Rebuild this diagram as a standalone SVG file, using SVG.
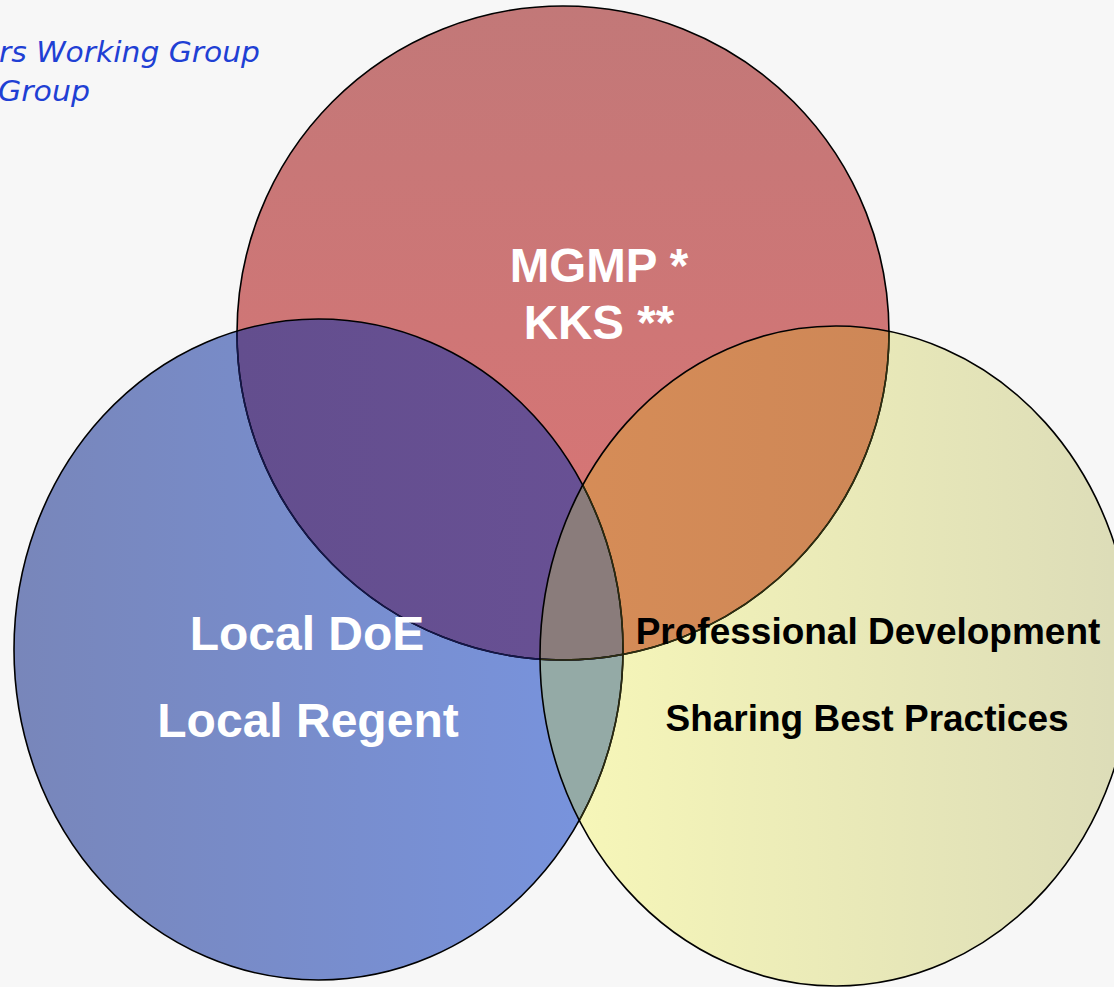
<svg xmlns="http://www.w3.org/2000/svg" width="1114" height="987" viewBox="0 0 1114 987">
  <style>
    .lbl-w { font-family: "Liberation Sans", Arial, sans-serif; font-weight: bold; fill: #ffffff; text-anchor: middle; }
    .lbl-b { font-family: "Liberation Sans", Arial, sans-serif; font-weight: bold; fill: #000000; text-anchor: middle; }
    .hdr { font-family: "DejaVu Sans", "Lato", sans-serif; font-style: italic; fill: #1f40d4; font-size: 29px; }
    .edge { fill: none; stroke-width: 1.6; }
  </style>
  <defs>
    <linearGradient id="gRed" x1="0" y1="0" x2="0" y2="1">
      <stop offset="0" stop-color="#c27878"/>
      <stop offset="1" stop-color="#dc7474"/>
    </linearGradient>
    <linearGradient id="gBlue" x1="0" y1="0" x2="1" y2="0">
      <stop offset="0" stop-color="#7886ba"/>
      <stop offset="1" stop-color="#7894df"/>
    </linearGradient>
    <linearGradient id="gYel" x1="0" y1="0" x2="1" y2="0">
      <stop offset="0" stop-color="#f8f8b8"/>
      <stop offset="1" stop-color="#dcdcb8"/>
    </linearGradient>
    <linearGradient id="gPur" x1="0" y1="0" x2="1" y2="0">
      <stop offset="0" stop-color="#634e8e"/>
      <stop offset="1" stop-color="#6c5299"/>
    </linearGradient>
    <linearGradient id="gOra" x1="0" y1="0" x2="1" y2="0">
      <stop offset="0" stop-color="#de9257"/>
      <stop offset="1" stop-color="#ce8757"/>
    </linearGradient>
    <clipPath id="cBlue"><ellipse cx="318.5" cy="649.5" rx="304.5" ry="330.5"/></clipPath>
    <clipPath id="cYel"><ellipse cx="836" cy="656" rx="296" ry="330"/></clipPath>
  </defs>

  <rect x="0" y="0" width="1114" height="987" fill="#f7f7f7"/>

  <g id="header">
    <text class="hdr" x="-1" y="62" textLength="261" lengthAdjust="spacingAndGlyphs">rs Working Group</text>
    <text class="hdr" x="-2" y="101" textLength="92" lengthAdjust="spacingAndGlyphs">Group</text>
  </g>

  <g id="fills">
    <ellipse cx="563" cy="333" rx="326" ry="327" fill="url(#gRed)"/>
    <ellipse cx="318.5" cy="649.5" rx="304.5" ry="330.5" fill="url(#gBlue)"/>
    <ellipse cx="836" cy="656" rx="296" ry="330" fill="url(#gYel)"/>
  </g>

  <g id="overlaps">
    <ellipse cx="563" cy="333" rx="326" ry="327" fill="url(#gPur)" clip-path="url(#cBlue)"/>
    <ellipse cx="563" cy="333" rx="326" ry="327" fill="url(#gOra)" clip-path="url(#cYel)"/>
    <ellipse cx="318.5" cy="649.5" rx="304.5" ry="330.5" fill="#94aaa6" clip-path="url(#cYel)"/>
    <g clip-path="url(#cBlue)">
      <ellipse cx="563" cy="333" rx="326" ry="327" fill="#8a7c7b" clip-path="url(#cYel)"/>
    </g>
  </g>

  <g id="node-mgmp">
    <ellipse class="edge" cx="563" cy="333" rx="326" ry="327" stroke="#000"/>
    <ellipse class="edge" cx="563" cy="333" rx="326" ry="327" stroke="#14164a" clip-path="url(#cBlue)"/>
    <ellipse class="edge" cx="563" cy="333" rx="326" ry="327" stroke="#2e2e10" clip-path="url(#cYel)"/>
    <text class="lbl-w" x="599" y="282" font-size="47.5">MGMP *</text>
    <text class="lbl-w" x="599" y="339" font-size="47.5">KKS **</text>
  </g>

  <g id="node-local">
    <ellipse class="edge" cx="318.5" cy="649.5" rx="304.5" ry="330.5" stroke="#000"/>
    <ellipse class="edge" cx="318.5" cy="649.5" rx="304.5" ry="330.5" stroke="#2a2a10" clip-path="url(#cYel)"/>
    <text class="lbl-w" x="307" y="650" font-size="48">Local DoE</text>
    <text class="lbl-w" x="308" y="737" font-size="48">Local Regent</text>
  </g>

  <g id="node-pd">
    <ellipse class="edge" cx="836" cy="656" rx="296" ry="330" stroke="#000"/>
    <text class="lbl-b" x="868" y="644" font-size="37">Professional Development</text>
    <text class="lbl-b" x="867" y="731" font-size="37">Sharing Best Practices</text>
  </g>
</svg>
